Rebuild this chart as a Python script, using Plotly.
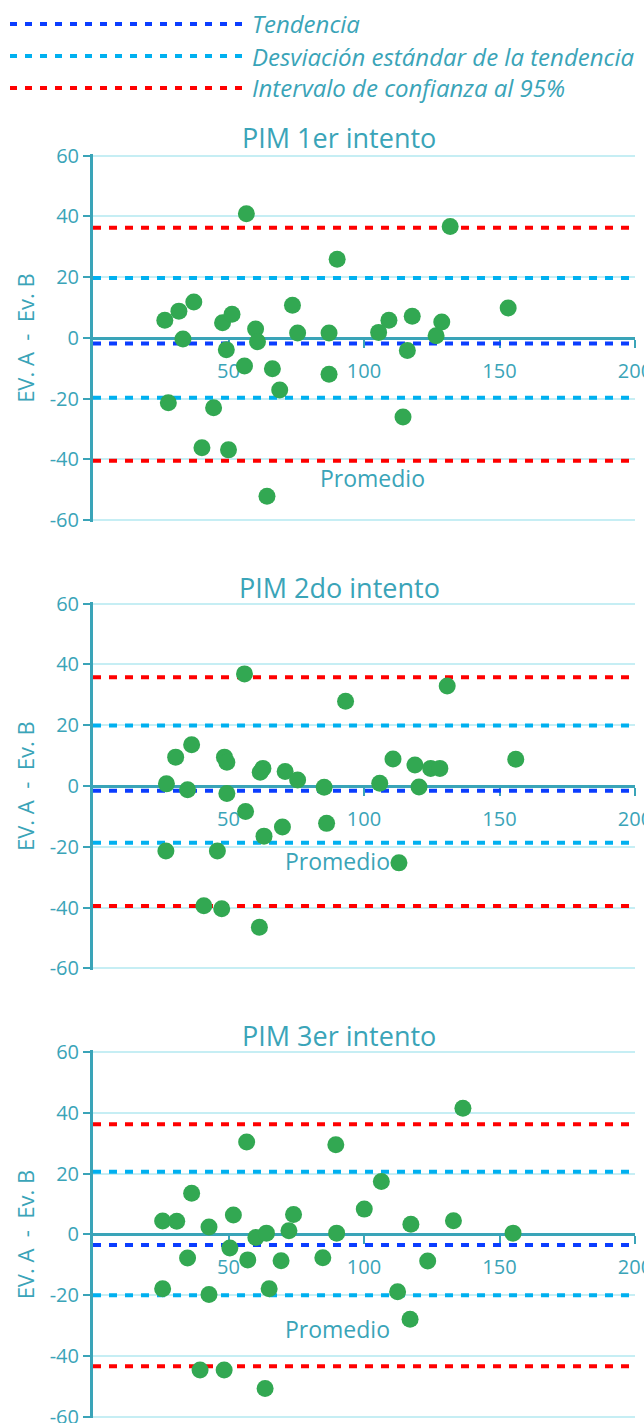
import plotly.graph_objects as go

# ---------------- data ----------------
panel_titles = ["PIM 1er intento", "PIM 2do intento", "PIM 3er intento"]
x_ticks = [50, 100, 150, 200]
y_ticks = [-60, -40, -20, 0, 20, 40, 60]
y_tick_labels = ["-60", "-40", "-20", "0", "20", "40", "60"]

x1 = [26.5, 31.7, 37.2, 33.2, 27.8, 47.8, 51.3, 49.2, 44.5, 40.2, 50.0, 56.6, 55.9, 60.0, 60.7, 73.6,
      75.5, 66.2, 68.9, 64.2, 87.1, 87.1, 90.1, 105.4, 109.2, 117.8, 116.0, 114.4, 126.6, 128.7, 131.8, 153.2]
y1 = [5.8, 8.8, 11.8, -0.4, -21.4, 5.0, 7.8, -3.9, -23.0, -36.2, -36.9, 40.9, -9.3, 2.9, -1.3, 10.7,
      1.6, -10.2, -17.2, -52.2, 1.6, -12.0, 25.9, 1.8, 5.8, 7.1, -4.2, -26.1, 0.7, 5.2, 36.7, 9.8]

x2 = [27.1, 30.5, 36.4, 34.9, 26.9, 48.5, 49.4, 49.4, 45.9, 40.9, 47.5, 55.9, 56.3, 62.7, 61.7, 70.9,
      75.5, 63.1, 69.9, 61.4, 85.3, 86.2, 93.2, 130.7, 110.7, 118.8, 124.6, 128.0, 105.8, 120.3, 112.9, 156.0]
y2 = [0.7, 9.5, 13.6, -1.2, -21.4, 9.5, 7.8, -2.5, -21.4, -39.4, -40.4, 36.9, -8.4, 5.8, 4.5, 4.8,
      2.0, -16.5, -13.5, -46.5, -0.4, -12.3, 27.9, 32.9, 8.9, 6.9, 5.8, 5.8, 0.9, -0.3, -25.3, 8.8]

x3 = [25.7, 30.9, 36.4, 34.9, 25.7, 42.8, 42.8, 39.5, 48.4, 51.8, 50.5, 56.7, 57.1, 60.1, 64.0, 65.0,
      63.5, 72.3, 74.0, 69.4, 84.8, 89.6, 89.9, 100.1, 106.4, 117.3, 123.5, 112.4, 117.0, 133.0, 136.5, 155.0]
y3 = [4.4, 4.3, 13.5, -7.8, -17.9, 2.4, -19.8, -44.6, -44.6, 6.4, -4.5, 30.4, -8.4, -1.0, 0.4, -17.9,
      -50.7, 1.2, 6.5, -8.7, -7.7, 29.5, 0.4, 8.3, 17.4, 3.3, -8.8, -18.9, -27.9, 4.5, 41.5, 0.4]

trend = [-1.9, -1.6, -3.5]
sd_upper = [19.7, 19.9, 20.6]
sd_lower = [-19.7, -18.7, -20.0]
ci_upper = [36.3, 35.8, 36.2]
ci_lower = [-40.5, -39.5, -43.4]

legend_labels = ["Tendencia", "Desviación estándar de la tendencia", "Intervalo de confianza al 95%"]
x_title = "Promedio"
y_title = "EV. A\u00a0\u00a0-\u00a0\u00a0Ev. B"
x_title_pos = [(103.3, -46.2), (90.3, -24.7), (90.3, -31.3)]

# ---------------- style ----------------
W, H = 644, 1423
ML, MR = 93, 9
teal = "#3AA4B8"
grid = "#C6EEF4"
green = "#32A852"
red = "#FF0000"
lblue = "#00B0F0"
dblue = "#0B3DFF"
font = "Open Sans"

# pixel extents (top, bottom) of the -60..60 span for each panel
panel_px = [(155.7, 520.0), (603.7, 968.3), (1052.0, 1416.7)]
pad = 0.5  # data units added at both ends so the edge gridlines are drawn
title_px = [137, 587, 1035]

fig = go.Figure()
layout = dict(
    width=W, height=H,
    margin=dict(l=ML, r=MR, t=0, b=0, autoexpand=False),
    paper_bgcolor="white", plot_bgcolor="white",
    showlegend=False,
    font=dict(family=font, color=teal),
)
annotations = []
shapes = []
xs = [x1, x2, x3]
ys = [y1, y2, y3]

for i in range(3):
    sfx = "" if i == 0 else str(i + 1)
    xa, ya = "x" + sfx, "y" + sfx
    top, bot = panel_px[i]
    ppu = (bot - top) / 120.0
    top_e, bot_e = top - pad * ppu, bot + pad * ppu
    dom = [1 - bot_e / H, 1 - top_e / H]
    for val, col in [(ci_upper[i], red), (ci_lower[i], red),
                     (sd_upper[i], lblue), (sd_lower[i], lblue),
                     (trend[i], dblue)]:
        fig.add_trace(go.Scatter(x=[0, 200], y=[val, val], mode="lines",
                                 line=dict(color=col, width=4, dash="8px,8px"),
                                 xaxis=xa, yaxis=ya, hoverinfo="skip"))
    fig.add_trace(go.Scatter(x=xs[i], y=ys[i], mode="markers",
                             marker=dict(color=green, size=17, line=dict(width=0)),
                             xaxis=xa, yaxis=ya))
    layout["xaxis" + sfx] = dict(
        domain=[0, 1], range=[0, 200], anchor="free", position=(dom[0] + dom[1]) / 2,
        showline=True, linecolor=teal, linewidth=3,
        ticks="outside", ticklen=8, tickwidth=2, tickcolor=teal,
        tickvals=x_ticks, tickfont=dict(size=20, color=teal, family=font),
        showgrid=False, zeroline=False, layer="below traces", ticklabelstandoff=6,
        automargin=False, ticklabeloverflow="allow",
    )
    layout["yaxis" + sfx] = dict(
        domain=dom, range=[-60 - pad, 60 + pad], anchor=xa,
        showline=True, linecolor=teal, linewidth=3,
        ticks="outside", ticklen=7, tickwidth=2, tickcolor=teal,
        tickmode="array", tickvals=y_ticks, ticktext=y_tick_labels,
        tickfont=dict(size=20, color=teal, family=font),
        showgrid=True, gridcolor=grid, gridwidth=2, zeroline=False, layer="below traces",
        automargin=False, ticklabeloverflow="allow",
    )
    annotations.append(dict(text=panel_titles[i], xref="paper", yref="paper",
                            x=0.454, y=1 - title_px[i] / H, xanchor="center", yanchor="middle",
                            showarrow=False, font=dict(size=27, color=teal, family=font)))
    annotations.append(dict(text=y_title, xref="paper", yref="paper",
                            x=(25 - ML) / (W - ML - MR), y=(dom[0] + dom[1]) / 2,
                            xanchor="center", yanchor="middle", textangle=-90,
                            showarrow=False, font=dict(size=22, color=teal, family=font)))
    annotations.append(dict(text=x_title, xref=xa, yref=ya,
                            x=x_title_pos[i][0], y=x_title_pos[i][1],
                            xanchor="center", yanchor="middle",
                            showarrow=False, font=dict(size=23, color=teal, family=font)))

# legend (drawn manually)
pw = W - ML - MR
leg_rows = [24, 56, 88]
leg_cols = [dblue, lblue, red]
for lbl, yy, col in zip(legend_labels, leg_rows, leg_cols):
    yp = 1 - yy / H
    shapes.append(dict(type="line", xref="paper", yref="paper",
                       x0=(10 - ML) / pw, x1=(242 - ML) / pw, y0=yp, y1=yp,
                       line=dict(color=col, width=4, dash="7px,8px")))
    annotations.append(dict(text="<i>" + lbl + "</i>", xref="paper", yref="paper",
                            x=(250 - ML) / pw, y=yp, xanchor="left", yanchor="middle",
                            showarrow=False, font=dict(size=24, color=teal, family=font)))

layout["annotations"] = annotations
layout["shapes"] = shapes
fig.update_layout(**layout)

fig.write_html("out.html", config={"displayModeBar": False},
               post_script="document.body.style.margin='0';")
